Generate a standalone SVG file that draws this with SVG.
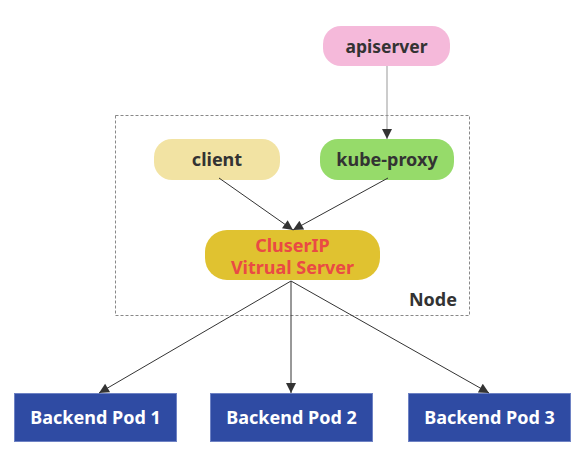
<svg xmlns="http://www.w3.org/2000/svg" width="587" height="456" viewBox="0 0 587 456">
<defs>
<marker id="ah" viewBox="0 0 10 10" refX="10" refY="5" markerWidth="11" markerHeight="10" markerUnits="userSpaceOnUse" orient="auto">
<path d="M0,0 L10,5 L0,10 z" fill="#333"/>
</marker>
<style>
text{font-family:"Noto Sans","Open Sans","Liberation Sans",sans-serif;font-weight:bold;font-size:18px;text-anchor:middle}
.dark{fill:#333}
.pod rect{fill:#2F4BA3;stroke:#6E82C4;stroke-width:1}
.pod text{fill:#fff}
.edge{fill:none;stroke:#333;stroke-width:1;marker-end:url(#ah)}
</style>
</defs>
<rect width="587" height="456" fill="#fff"/>
<g id="node-box">
<rect x="115.5" y="115.5" width="354" height="200" fill="none" stroke="#888" stroke-dasharray="3,2"/>
<text x="433" y="306" class="dark">Node</text>
</g>
<g id="apiserver">
<rect x="323" y="26" width="127" height="40" rx="18" fill="#F5B9DA"/>
<text x="386.5" y="52.5" class="dark" style="font-size:17.5px">apiserver</text>
</g>
<g id="client">
<rect x="154" y="139" width="126" height="41" rx="18" fill="#F2E3A3"/>
<text x="217" y="166" class="dark">client</text>
</g>
<g id="kube-proxy">
<rect x="320" y="139" width="134" height="41" rx="18" fill="#96DB6A"/>
<text x="387" y="166" class="dark">kube-proxy</text>
</g>
<g id="clusterip">
<rect x="205" y="230" width="175" height="50" rx="22" fill="#E0C230"/>
<text x="292.5" y="252" fill="#EA4A44">CluserIP</text>
<text x="292.5" y="274" fill="#EA4A44">Vitrual Server</text>
</g>
<g id="pod1" class="pod">
<rect x="14.5" y="393.5" width="162" height="48"/>
<text x="95.5" y="424">Backend Pod 1</text>
</g>
<g id="pod2" class="pod">
<rect x="210.5" y="393.5" width="162" height="48"/>
<text x="291.5" y="424">Backend Pod 2</text>
</g>
<g id="pod3" class="pod">
<rect x="408.5" y="393.5" width="162" height="48"/>
<text x="489.5" y="424">Backend Pod 3</text>
</g>
<g id="connectors">
<line class="edge" x1="387" y1="66" x2="387" y2="139" style="stroke:#999"/>
<line class="edge" x1="219" y1="178" x2="293" y2="230"/>
<line class="edge" x1="388" y1="178" x2="293" y2="230"/>
<line class="edge" x1="291" y1="281" x2="99" y2="393"/>
<line class="edge" x1="291" y1="281" x2="291" y2="393"/>
<line class="edge" x1="291" y1="281" x2="489" y2="393"/>
</g>
</svg>
